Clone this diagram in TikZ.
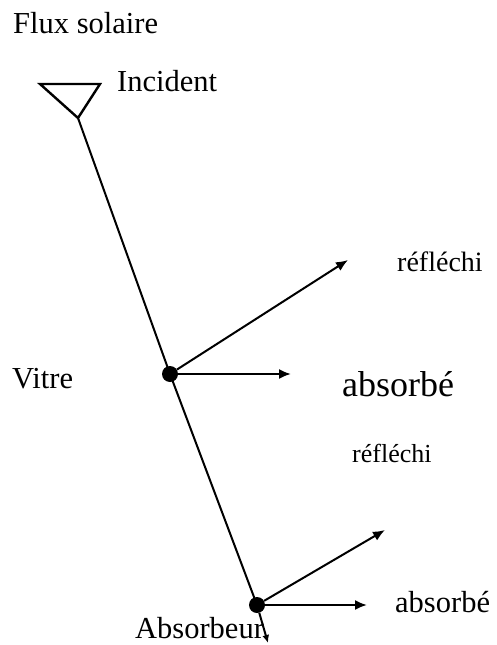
\documentclass[tikz,border=0pt]{standalone}
\usepackage{fontspec}
\setmainfont{Liberation Serif}
\usetikzlibrary{arrows.meta}

\begin{document}
\begin{tikzpicture}[
  x=1pt,y=-1pt,
  font=\fontsize{30.5}{36}\selectfont,
  txt/.style={anchor=base west,inner sep=0pt},
  pt/.style={circle,fill=black,inner sep=0pt,minimum size=16pt},
  ray/.style={line width=2pt},
  arr/.style={-{Latex[length=12pt,width=10pt]},line width=2pt}
]
\useasboundingbox (0,0) rectangle (496,645);

% labels
\node[txt] (flux)   at (13,33)  {Flux solaire};
\node[txt] (inc)    at (117,91) {Incident};
\node[txt] (vitre)  at (12,388) {Vitre};
\node[txt] (refl1)  at (397,271) {\fontsize{28}{32}\selectfont réfléchi};
\node[txt] (abs1)   at (342,396) {\fontsize{36}{40}\selectfont absorbé};
\node[txt] (refl2)  at (352,462) {\fontsize{26}{30}\selectfont réfléchi};
\node[txt] (abs2)   at (395,612) {absorbé};
\node[txt] (absorb) at (135,638) {Absorbeur};

% incident beam
\draw[line width=2.4pt] (40,84) -- (100,84) -- (78,118) -- cycle;
\coordinate (apex) at (78,118);

% glazing and absorber points
\node[pt] (v) at (170,374) {};
\node[pt] (a) at (257,605) {};

\coordinate (vr) at (348,260);
\coordinate (va) at (291,374);
\coordinate (ar) at (385,530);
\coordinate (aa) at (367,605);
\coordinate (at) at (268,643);

\draw[ray] (apex) -- (v.center);
\draw[ray] (v.center) -- (a.center);
\draw[arr] (v) -- (vr);
\draw[arr] (v.east) -- (va);
\draw[arr] (a) -- (ar);
\draw[arr] (a.east) -- (aa);
\draw[arr,-{Latex[length=8pt,width=7pt]}] (a) -- (at);
\end{tikzpicture}
\end{document}
